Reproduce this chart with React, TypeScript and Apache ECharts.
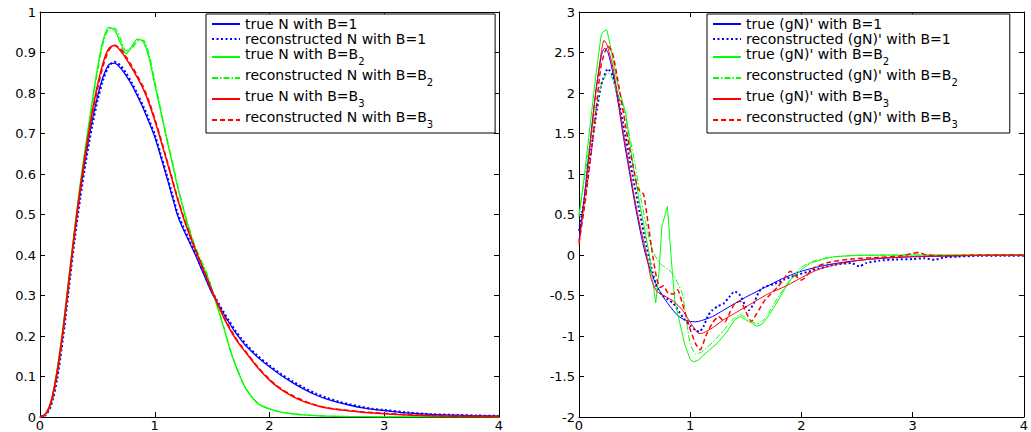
import React, { useEffect, useRef } from "react";
import * as echarts from "echarts";

// ---------- Left panel: N(x) ----------
const xN = [0, 0.05, 0.1, 0.15, 0.2, 0.25, 0.3, 0.35, 0.4, 0.45, 0.5, 0.55, 0.6, 0.65, 0.7, 0.75, 0.8, 0.85, 0.9, 0.95,
  1.0, 1.05, 1.1, 1.15, 1.2, 1.25, 1.3, 1.35, 1.4, 1.45, 1.5, 1.55, 1.6, 1.65, 1.7, 1.75, 1.8, 1.9, 2.0, 2.1,
  2.2, 2.3, 2.4, 2.5, 2.6, 2.7, 2.8, 2.9, 3.0, 3.2, 3.4, 3.6, 3.8, 4.0];

const nTrue1 = [0, 0.008, 0.04, 0.11, 0.21, 0.33, 0.45, 0.555, 0.645, 0.725, 0.79, 0.84, 0.87, 0.874, 0.862, 0.843, 0.82, 0.792, 0.762, 0.728,
  0.692, 0.645, 0.597, 0.547, 0.497, 0.463, 0.433, 0.403, 0.37, 0.337, 0.305, 0.279, 0.255, 0.232, 0.21, 0.191, 0.174, 0.147, 0.124, 0.103,
  0.085, 0.069, 0.055, 0.044, 0.036, 0.029, 0.023, 0.019, 0.016, 0.010, 0.0065, 0.0045, 0.003, 0.002];
const nReco1 = [0, 0.005, 0.032, 0.095, 0.195, 0.315, 0.435, 0.54, 0.632, 0.712, 0.78, 0.833, 0.866, 0.877, 0.868, 0.849, 0.825, 0.797, 0.767, 0.733,
  0.697, 0.65, 0.602, 0.552, 0.502, 0.468, 0.437, 0.407, 0.374, 0.341, 0.309, 0.283, 0.259, 0.236, 0.214, 0.195, 0.178, 0.15, 0.127, 0.106,
  0.088, 0.072, 0.058, 0.047, 0.038, 0.031, 0.025, 0.02, 0.017, 0.011, 0.007, 0.005, 0.0035, 0.0025];
const nTrue2 = [0, 0.008, 0.043, 0.118, 0.22, 0.34, 0.462, 0.575, 0.675, 0.77, 0.86, 0.93, 0.962, 0.955, 0.925, 0.897, 0.915, 0.933, 0.927, 0.887,
  0.822, 0.757, 0.692, 0.63, 0.567, 0.512, 0.462, 0.418, 0.383, 0.353, 0.312, 0.267, 0.222, 0.172, 0.13, 0.096, 0.067, 0.033, 0.02, 0.012,
  0.008, 0.005, 0.0035, 0.002, 0.0015, 0.001, 0.0008, 0.0006, 0.0005, 0.0003, 0.0002, 0.0001, 0.0001, 0];
const nReco2 = [0, 0.006, 0.038, 0.11, 0.21, 0.33, 0.452, 0.565, 0.667, 0.762, 0.85, 0.922, 0.958, 0.96, 0.935, 0.905, 0.91, 0.928, 0.93, 0.895,
  0.83, 0.763, 0.697, 0.635, 0.572, 0.516, 0.466, 0.423, 0.39, 0.358, 0.316, 0.27, 0.224, 0.174, 0.132, 0.097, 0.068, 0.034, 0.02, 0.012,
  0.008, 0.005, 0.0035, 0.002, 0.0015, 0.001, 0.0008, 0.0006, 0.0005, 0.0003, 0.0002, 0.0001, 0.0001, 0];
const nTrue3 = [0, 0.008, 0.042, 0.115, 0.215, 0.335, 0.455, 0.565, 0.66, 0.745, 0.818, 0.875, 0.91, 0.917, 0.905, 0.885, 0.862, 0.837, 0.81, 0.775,
  0.732, 0.686, 0.637, 0.587, 0.537, 0.492, 0.452, 0.415, 0.38, 0.345, 0.31, 0.277, 0.246, 0.219, 0.195, 0.175, 0.157, 0.121, 0.091, 0.068,
  0.051, 0.038, 0.029, 0.022, 0.018, 0.015, 0.012, 0.01, 0.008, 0.005, 0.003, 0.002, 0.0015, 0.001];
const nReco3 = [0, 0.006, 0.036, 0.105, 0.205, 0.325, 0.445, 0.555, 0.65, 0.735, 0.808, 0.866, 0.905, 0.918, 0.91, 0.89, 0.867, 0.842, 0.815, 0.78,
  0.737, 0.69, 0.641, 0.591, 0.54, 0.495, 0.455, 0.418, 0.382, 0.347, 0.312, 0.28, 0.25, 0.222, 0.198, 0.177, 0.159, 0.123, 0.093, 0.07,
  0.053, 0.04, 0.03, 0.023, 0.019, 0.016, 0.013, 0.011, 0.009, 0.006, 0.0035, 0.0025, 0.0018, 0.0012];

// ---------- Right panel: (gN)'(x), [x, y] pairs ----------
const gTrue1 = [[0, 0.18], [0.05, 0.75], [0.1, 1.4], [0.15, 2.0], [0.2, 2.45], [0.23, 2.55], [0.26, 2.5], [0.3, 2.28], [0.35, 1.9], [0.4, 1.45],
  [0.45, 1.05], [0.5, 0.65], [0.55, 0.3], [0.6, 0.0], [0.65, -0.22], [0.7, -0.38], [0.75, -0.5], [0.8, -0.6], [0.85, -0.69], [0.9, -0.76],
  [0.95, -0.8], [1.0, -0.82], [1.05, -0.825], [1.1, -0.81], [1.2, -0.76], [1.3, -0.68], [1.4, -0.6], [1.5, -0.52], [1.6, -0.45], [1.7, -0.38],
  [1.8, -0.31], [1.9, -0.25], [2.0, -0.2], [2.2, -0.13], [2.4, -0.085], [2.6, -0.055], [2.8, -0.035], [3.0, -0.022], [3.5, -0.008], [4.0, -0.003]];
const gReco1 = [[0, 0.3], [0.05, 0.7], [0.1, 1.2], [0.15, 1.7], [0.2, 2.1], [0.26, 2.3], [0.3, 2.22], [0.35, 1.95], [0.4, 1.6], [0.45, 1.22],
  [0.5, 0.85], [0.55, 0.5], [0.6, 0.15], [0.65, -0.15], [0.7, -0.4], [0.75, -0.5], [0.8, -0.55], [0.85, -0.6], [0.9, -0.7], [0.95, -0.8],
  [1.0, -0.87], [1.05, -0.93], [1.08, -0.95], [1.12, -0.88], [1.16, -0.75], [1.2, -0.68], [1.25, -0.63], [1.3, -0.6], [1.35, -0.52], [1.4, -0.45],
  [1.45, -0.5], [1.5, -0.64], [1.53, -0.68], [1.57, -0.6], [1.62, -0.45], [1.66, -0.4], [1.75, -0.36], [1.85, -0.3], [1.95, -0.25], [2.05, -0.21],
  [2.15, -0.17], [2.3, -0.12], [2.45, -0.1], [2.52, -0.14], [2.58, -0.1], [2.7, -0.07], [2.85, -0.055], [3.0, -0.05], [3.1, -0.04], [3.2, -0.06],
  [3.28, -0.03], [3.4, -0.02], [3.6, -0.01], [3.8, -0.01], [4.0, -0.01]];
const gTrue2 = [[0, 0.47], [0.05, 1.0], [0.1, 1.6], [0.15, 2.2], [0.2, 2.72], [0.22, 2.76], [0.25, 2.78], [0.28, 2.6], [0.32, 2.3], [0.36, 2.02],
  [0.38, 1.95], [0.42, 1.75], [0.46, 1.35], [0.5, 1.0], [0.55, 0.6], [0.6, 0.25], [0.63, 0.02], [0.66, -0.3], [0.69, -0.59], [0.72, -0.2],
  [0.745, 0.35], [0.795, 0.6], [0.83, -0.05], [0.86, -0.55], [0.9, -0.8], [0.95, -1.1], [1.0, -1.29], [1.03, -1.32], [1.07, -1.3], [1.15, -1.2],
  [1.25, -1.08], [1.33, -0.95], [1.4, -0.8], [1.45, -0.76], [1.5, -0.8], [1.6, -0.88], [1.65, -0.85], [1.7, -0.76], [1.76, -0.63], [1.85, -0.42],
  [1.9, -0.31], [2.0, -0.18], [2.08, -0.1], [2.2, -0.05], [2.3, -0.02], [2.5, -0.005], [3.0, 0], [4.0, 0]];
const gReco2 = [[0, 0.5], [0.05, 0.95], [0.1, 1.4], [0.15, 1.8], [0.2, 2.1], [0.26, 2.25], [0.3, 2.18], [0.35, 1.98], [0.4, 1.82], [0.45, 1.5],
  [0.5, 1.15], [0.55, 0.75], [0.6, 0.4], [0.65, 0.1], [0.7, -0.05], [0.75, -0.13], [0.8, -0.17], [0.85, -0.25], [0.9, -0.38], [0.93, -0.48],
  [0.97, -0.85], [1.0, -1.1], [1.05, -1.22], [1.1, -1.2], [1.2, -1.08], [1.3, -0.93], [1.38, -0.8], [1.45, -0.74], [1.52, -0.79], [1.6, -0.85],
  [1.66, -0.8], [1.72, -0.68], [1.8, -0.5], [1.9, -0.3], [2.0, -0.15], [2.1, -0.08], [2.2, -0.04], [2.35, -0.015], [2.6, 0], [3.0, 0], [4.0, 0]];
const gTrue3 = [[0, 0.12], [0.05, 0.7], [0.1, 1.35], [0.15, 2.0], [0.2, 2.5], [0.225, 2.65], [0.25, 2.6], [0.3, 2.35], [0.35, 1.95], [0.4, 1.5],
  [0.45, 1.1], [0.5, 0.7], [0.55, 0.35], [0.6, 0.05], [0.65, -0.3], [0.7, -0.45], [0.75, -0.49], [0.8, -0.53], [0.85, -0.57], [0.93, -0.68],
  [1.0, -0.83], [1.05, -0.93], [1.08, -0.97], [1.12, -0.96], [1.2, -0.9], [1.3, -0.8], [1.4, -0.72], [1.55, -0.6], [1.7, -0.48], [1.85, -0.39],
  [2.0, -0.28], [2.14, -0.185], [2.3, -0.12], [2.5, -0.07], [2.7, -0.04], [3.0, -0.02], [3.5, -0.005], [4.0, 0]];
const gReco3 = [[0, 0.15], [0.05, 0.6], [0.1, 1.15], [0.15, 1.75], [0.2, 2.35], [0.26, 2.58], [0.3, 2.5], [0.35, 2.15], [0.4, 1.75], [0.45, 1.35],
  [0.5, 1.0], [0.53, 0.82], [0.58, 0.75], [0.62, 0.4], [0.66, 0.02], [0.7, -0.3], [0.73, -0.4], [0.76, -0.38], [0.8, -0.47], [0.85, -0.48],
  [0.885, -0.43], [0.93, -0.6], [0.99, -0.88], [1.05, -1.1], [1.09, -1.17], [1.14, -1.0], [1.2, -0.84], [1.255, -0.76], [1.31, -0.83], [1.36, -0.7],
  [1.4, -0.6], [1.45, -0.57], [1.5, -0.7], [1.55, -0.82], [1.6, -0.72], [1.67, -0.56], [1.79, -0.39], [1.85, -0.28], [1.9, -0.2], [1.95, -0.26],
  [2.0, -0.31], [2.05, -0.25], [2.11, -0.16], [2.25, -0.09], [2.44, -0.05], [2.7, -0.03], [2.9, -0.01], [3.0, 0.02], [3.06, 0.03], [3.12, 0.0],
  [3.3, -0.01], [3.6, 0.0], [3.8, 0.0], [4.0, 0.0]];

const leftNames = [
  "true N with B=1", "reconstructed N with B=1",
  "true N with B=B2", "reconstructed N with B=B2",
  "true N with B=B3", "reconstructed N with B=B3",
];
const rightNames = [
  "true (gN)' with B=1", "reconstructed (gN)' with B=1",
  "true (gN)' with B=B2", "reconstructed (gN)' with B=B2",
  "true (gN)' with B=B3", "reconstructed (gN)' with B=B3",
];

const FONT = "DejaVu Sans";
const BLUE = "#0000ff";
const GREEN = "#00ff00";
const RED = "#ff0000";

function zip(xs: number[], ys: number[]) {
  return xs.map((x, i) => [x, ys[i]]);
}

function lineSeries(name: string, data: number[][], axis: number, color: string, width: number, type: any, smooth: number | boolean) {
  return {
    type: "line",
    name,
    data,
    xAxisIndex: axis,
    yAxisIndex: axis,
    symbol: "none",
    showSymbol: false,
    smooth,
    silent: true,
    lineStyle: { color, width, type },
    itemStyle: { color },
    emphasis: { disabled: true },
  };
}

function axisBase(extra: any) {
  return {
    type: "value",
    axisLine: { show: true, onZero: false, lineStyle: { color: "#000", width: 1 } },
    axisTick: { show: true, inside: true, length: 5, lineStyle: { color: "#000", width: 1 } },
    splitLine: { show: false },
    axisLabel: { color: "#000", fontFamily: FONT, fontSize: 13 },
    ...extra,
  };
}

function legendFormatter(name: string) {
  const m = name.match(/^(.*B=B)(\d)$/);
  if (m) return "{m|" + m[1] + "}{s|" + m[2] + "}";
  return "{m|" + name + "}";
}

const legendBase = {
  orient: "vertical",
  itemWidth: 28,
  itemHeight: 14,
  itemGap: 1,
  selectedMode: false,
  backgroundColor: "#fff",
  borderColor: "#000",
  borderWidth: 1,
  borderRadius: 0,
  itemStyle: { opacity: 0 },
  textStyle: {
    fontFamily: FONT,
    fontSize: 14,
    color: "#000",
    rich: {
      m: { fontFamily: FONT, fontSize: 14, color: "#000", verticalAlign: "top" },
      s: { fontFamily: FONT, fontSize: 10, color: "#000", lineHeight: 20, height: 11, verticalAlign: "bottom" },
    },
  },
  formatter: legendFormatter,
};

export default function App() {
  const ref = useRef<HTMLDivElement>(null);
  useEffect(() => {
    if (!ref.current) return;
    const chart = echarts.init(ref.current, undefined, { renderer: "svg" });
    const xLab = { color: "#000", fontFamily: FONT, fontSize: 13, margin: 2 };
    const yLab = { color: "#000", fontFamily: FONT, fontSize: 13, margin: 4 };
    chart.setOption({
      animation: false,
      backgroundColor: "#fff",
      grid: [
        { left: 40, top: 12, width: 459, height: 405, containLabel: false },
        { left: 579, top: 12, width: 450, height: 405, containLabel: false },
      ],
      xAxis: [
        axisBase({ gridIndex: 0, position: "bottom", min: 0, max: 4, interval: 1, axisLabel: xLab }),
        axisBase({ gridIndex: 0, position: "top", min: 0, max: 4, interval: 1, axisLabel: { show: false } }),
        axisBase({ gridIndex: 1, position: "bottom", min: 0, max: 4, interval: 1, axisLabel: xLab }),
        axisBase({ gridIndex: 1, position: "top", min: 0, max: 4, interval: 1, axisLabel: { show: false } }),
      ],
      yAxis: [
        axisBase({ gridIndex: 0, position: "left", min: 0, max: 1, interval: 0.1, axisLabel: yLab }),
        axisBase({ gridIndex: 0, position: "right", min: 0, max: 1, interval: 0.1, axisLabel: { show: false } }),
        axisBase({ gridIndex: 1, position: "left", min: -2, max: 3, interval: 0.5, axisLabel: yLab }),
        axisBase({ gridIndex: 1, position: "right", min: -2, max: 3, interval: 0.5, axisLabel: { show: false } }),
      ],
      legend: [
        { ...legendBase, data: leftNames, left: 206, top: 14, padding: [3, 62, 3, 5] },
        { ...legendBase, data: rightNames, left: 707, top: 14, padding: [3, 52, 3, 5] },
      ],
      series: [
        lineSeries(leftNames[0], zip(xN, nTrue1), 0, BLUE, 1.3, "solid", 0.3),
        lineSeries(leftNames[1], zip(xN, nReco1), 0, BLUE, 2.2, [2, 2.5], 0.3),
        lineSeries(leftNames[2], zip(xN, nTrue2), 0, GREEN, 1.3, "solid", 0.3),
        lineSeries(leftNames[3], zip(xN, nReco2), 0, GREEN, 1.2, [6, 2, 1.5, 2], 0.3),
        lineSeries(leftNames[4], zip(xN, nTrue3), 0, RED, 1.5, "solid", 0.3),
        lineSeries(leftNames[5], zip(xN, nReco3), 0, RED, 1.5, [5, 3], 0.3),
        lineSeries(rightNames[0], gTrue1, 2, BLUE, 1, "solid", 0.3),
        lineSeries(rightNames[1], gReco1, 2, BLUE, 2, [2, 2.5], 0.2),
        lineSeries(rightNames[2], gTrue2, 2, GREEN, 1, "solid", false),
        lineSeries(rightNames[3], gReco2, 2, GREEN, 1, [6, 2, 1.5, 2], 0.2),
        lineSeries(rightNames[4], gTrue3, 2, RED, 1, "solid", 0.2),
        lineSeries(rightNames[5], gReco3, 2, RED, 1.5, [5, 3], 0.2),
      ],
    });
    return () => chart.dispose();
  }, []);
  return (
    <div
      ref={ref}
      style={{ position: "absolute", left: 0, top: 0, width: 1031, height: 432, background: "#fff" }}
    />
  );
}
